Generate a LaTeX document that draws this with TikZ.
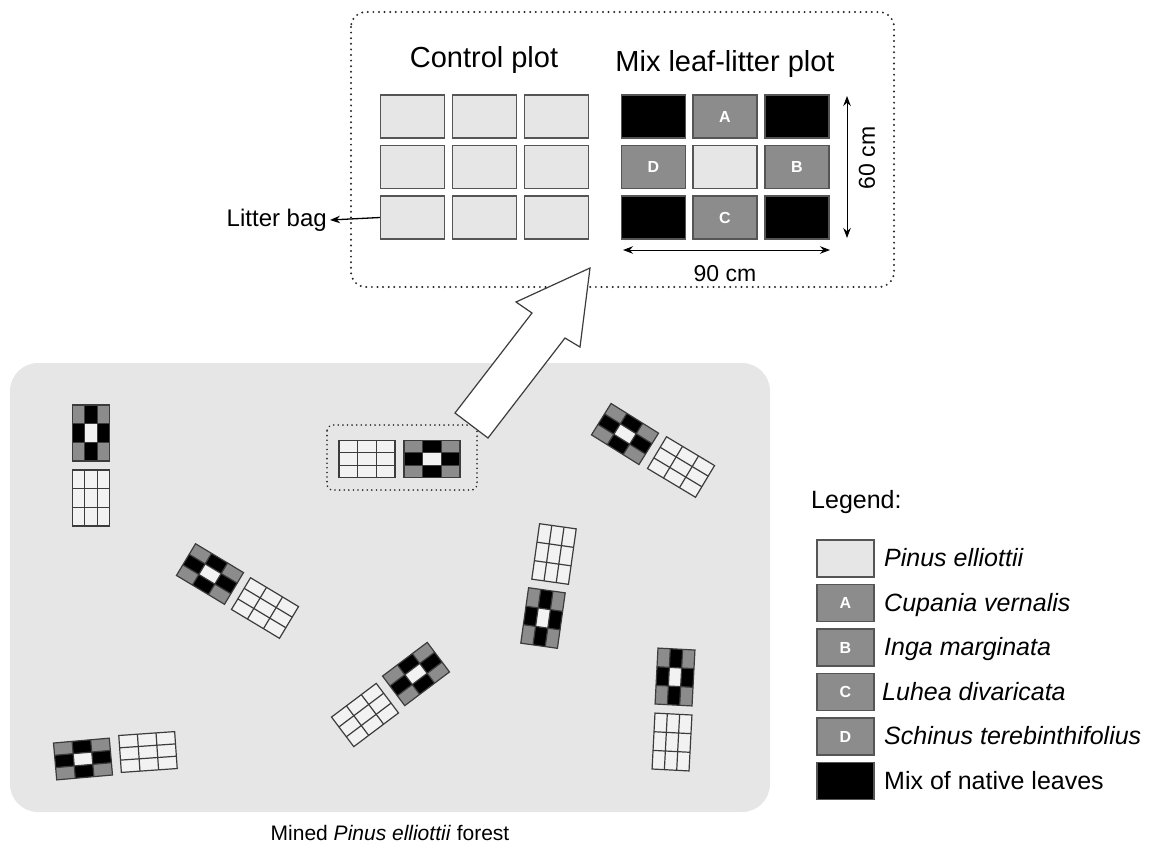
\documentclass[tikz,border=0pt]{standalone}
\usepackage{fontspec}
\setmainfont{Liberation Sans}
\usetikzlibrary{arrows.meta}
\definecolor{bg}{HTML}{E6E6E6}
\definecolor{lite}{HTML}{E6E6E6}
\definecolor{mid}{HTML}{8C8C8C}
\definecolor{edge}{HTML}{555555}
\definecolor{wcell}{HTML}{F2F2F2}
\definecolor{sline}{HTML}{3C3C3C}
\begin{document}
\begin{tikzpicture}[x=1pt,y=-1pt,
  cell/.style={draw=edge, line width=1.3pt, minimum width=64pt, minimum height=43pt, inner sep=0pt},
  litecell/.style={cell, fill=lite},
  midcell/.style={cell, fill=mid, text=white, font=\fontsize{16}{18}\selectfont\bfseries},
  blackcell/.style={cell, fill=black},
  title/.style={font=\fontsize{29}{33}\selectfont, inner sep=0pt},
  lbl/.style={font=\fontsize{23}{26}\selectfont, inner sep=0pt},
  legtext/.style={font=\fontsize{25}{28}\selectfont\itshape, inner sep=0pt, anchor=base west},
  legbox/.style={draw=edge, line width=1.3pt, minimum width=57pt, minimum height=37pt, inner sep=0pt, text=white, font=\fontsize{16}{18}\selectfont\bfseries},
  dimarrow/.style={line width=1pt, {Stealth[length=10pt,width=7.5pt]}-{Stealth[length=10pt,width=7.5pt]}},
  dotbox/.style={draw=black!85, line width=2.2pt, dash pattern=on 0pt off 5.6pt, line cap=round},
  smallline/.style={draw=sline, line width=1.2pt},
  mixsmall/.pic={
    \foreach \i/\j/\c in {0/0/mid,1/0/black,2/0/mid,0/1/black,1/1/wcell,2/1/black,0/2/mid,1/2/black,2/2/mid}
      \fill[\c] ({-28+\i*56/3},{-18.5+\j*37/3}) rectangle ++(56/3,37/3);
    \foreach \k in {1,2} {
      \draw[smallline] ({-28+\k*56/3},-18.5) -- ++(0,37);
      \draw[smallline] (-28,{-18.5+\k*37/3}) -- ++(56,0);
    }
    \draw[smallline] (-28,-18.5) rectangle (28,18.5);
  },
  ctlsmall/.pic={
    \fill[wcell] (-28,-18.5) rectangle (28,18.5);
    \foreach \k in {1,2} {
      \draw[smallline] ({-28+\k*56/3},-18.5) -- ++(0,37);
      \draw[smallline] (-28,{-18.5+\k*37/3}) -- ++(56,0);
    }
    \draw[smallline] (-28,-18.5) rectangle (28,18.5);
  }
]
\useasboundingbox (0,0) rectangle (1155,847);

% forest area
\fill[bg, rounded corners=28pt] (10,363) rectangle (770,812);
\node[font=\fontsize{21}{24}\selectfont, inner sep=0pt, anchor=base] (cap) at (390,840) {Mined \textit{Pinus elliottii} forest};

% top dotted box
\draw[dotbox, rounded corners=15pt] (351,12) rectangle (894,287);

% titles
\node[title, anchor=base] (tc) at (484,67) {Control plot};
\node[title, anchor=base] (tm) at (725,71) {Mix leaf-litter plot};

% control plot cells
\foreach \c/\x in {1/412.5,2/484.5,3/556.5}
  \foreach \r/\y in {1/116.5,2/167,3/217.5}
    \node[litecell] (cc\r\c) at (\x,\y) {};

% mix plot cells
\node[blackcell] (mc11) at (653.5,116.5) {};
\node[midcell]   (mc12) at (725,116.5) {A};
\node[blackcell] (mc13) at (797,116.5) {};
\node[midcell]   (mc21) at (653.5,167) {D};
\node[litecell]  (mc22) at (725,167) {};
\node[midcell]   (mc23) at (797,167) {B};
\node[blackcell] (mc31) at (653.5,217.5) {};
\node[midcell]   (mc32) at (725,217.5) {C};
\node[blackcell] (mc33) at (797,217.5) {};

% litter bag
\node[font=\fontsize{24}{27}\selectfont, anchor=east, inner sep=3pt] (lb) at (330,220) {Litter bag};
\draw[line width=1.3pt, -{Stealth[length=10pt,width=7.5pt]}] (cc31.west) -- (lb.east);

% dimensions
\coordinate (va) at (847,96);
\coordinate (vb) at (847,238);
\draw[dimarrow] (va) -- (vb);
\node[lbl, rotate=90] (l60) at (867,158) {60 cm};
\coordinate (ha) at (623,250);
\coordinate (hb) at (830,250);
\draw[dimarrow] (ha) -- (hb);
\node[lbl, anchor=base] (l90) at (725,281) {90 cm};

% small dotted box
\draw[dotbox, line width=1.8pt, dash pattern=on 0pt off 4.6pt, rounded corners=6pt] (327,425) rectangle (477,490);

% big hollow arrow
\draw[fill=white, draw=sline, line width=1.2pt, line join=miter]
  (455,413) -- (532,313) -- (516,302) -- (590,268) -- (580,347) -- (565,338) -- (488,438) -- cycle;

% small plots
\pic[rotate=90] (p1m) at (91,433) {mixsmall};
\pic[rotate=90] (p1c) at (91,498) {ctlsmall};
\pic (p2c) at (367,459) {ctlsmall};
\pic (p2m) at (432,459) {mixsmall};
\pic[rotate=-32] (p3m) at (625,434) {mixsmall};
\pic[rotate=-31] (p3c) at (681,467) {ctlsmall};
\pic[rotate=-31] (p4m) at (210,574) {mixsmall};
\pic[rotate=-31] (p4c) at (265,608) {ctlsmall};
\pic[rotate=82] (p5c) at (554,554) {ctlsmall};
\pic[rotate=82] (p5m) at (543,618) {mixsmall};
\pic[rotate=37] (p6m) at (416,674) {mixsmall};
\pic[rotate=37] (p6c) at (365,715) {ctlsmall};
\pic[rotate=5] (p7m) at (83,759) {mixsmall};
\pic[rotate=4] (p7c) at (148,752) {ctlsmall};
\pic[rotate=87] (p8m) at (675,677) {mixsmall};
\pic[rotate=87] (p8c) at (672,742) {ctlsmall};

% legend
\node[font=\fontsize{25}{28}\selectfont, inner sep=0pt, anchor=base west] (lg) at (811,508) {Legend:};
\node[legbox, fill=lite]  (k1) at (845.5,558.5) {};
\node[legbox, fill=mid]   (k2) at (845.5,603) {A};
\node[legbox, fill=mid]   (k3) at (845.5,647.5) {B};
\node[legbox, fill=mid]   (k4) at (845.5,692) {C};
\node[legbox, fill=mid]   (k5) at (845.5,736.5) {D};
\node[legbox, fill=black] (k6) at (845.5,781) {};
\node[legtext] (t1) at (884,566.5) {Pinus elliottii};
\node[legtext] (t2) at (884,611) {Cupania vernalis};
\node[legtext] (t3) at (884,655.5) {Inga marginata};
\node[legtext] (t4) at (882,700) {Luhea divaricata};
\node[legtext] (t5) at (884,744.5) {Schinus terebinthifolius};
\node[legtext, font=\fontsize{25}{28}\selectfont\upshape] (t6) at (884,789) {Mix of native leaves};
\end{tikzpicture}
\end{document}
